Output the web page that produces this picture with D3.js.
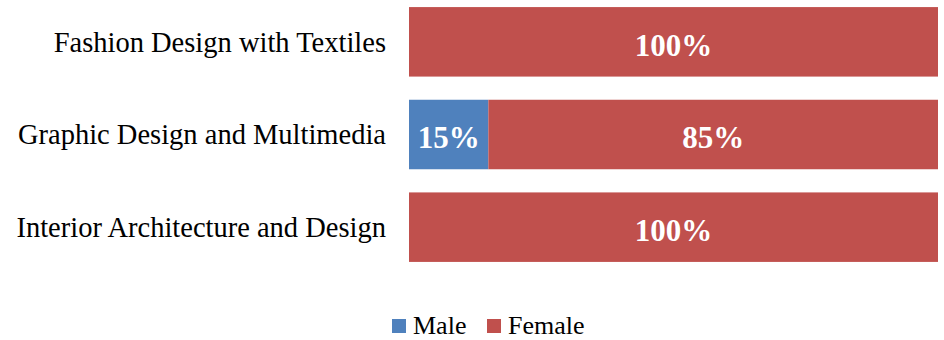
<!DOCTYPE html>
<html><head><meta charset="utf-8">
<script src="https://cdn.jsdelivr.net/npm/d3@7"></script>
<style>body{margin:0;background:#fff}svg{display:block}</style>
</head><body>
<script>
const categories = ["Fashion Design with Textiles", "Graphic Design and Multimedia", "Interior Architecture and Design"];
const seriesNames = ["Male", "Female"];
const male = [0, 15, 0];
const female = [100, 85, 100];
const colors = ["#4F81BD", "#C0504D"];

const W = 944, H = 340;
const svg = d3.select("body").append("svg").attr("width", W).attr("height", H);
const font = "'Liberation Serif','Times New Roman',serif";

const x = d3.scaleLinear().domain([0, 100]).range([409, 938]);
const y = d3.scaleBand().domain(categories).range([-4.5, 273.5]).paddingInner(0.25).paddingOuter(0.125);

const data = categories.map((c, i) => ({cat: c, Male: male[i], Female: female[i]}));
const stack = d3.stack().keys(seriesNames)(data);

stack.forEach((s, si) => {
  const g = svg.append("g");
  g.selectAll("rect").data(s).join("rect")
    .attr("x", d => x(d[0])).attr("width", d => x(d[1]) - x(d[0]))
    .attr("y", d => y(d.data.cat)).attr("height", y.bandwidth())
    .attr("fill", colors[si]);
  g.selectAll("text").data(s.filter(d => d[1] - d[0] > 0)).join("text")
    .attr("x", d => (x(d[0]) + x(d[1])) / 2)
    .attr("y", d => y(d.data.cat) + y.bandwidth() / 2)
    .attr("dy", "0.45em").attr("text-anchor", "middle")
    .attr("font-family", font).attr("font-weight", "bold").attr("font-size", 31)
    .attr("fill", "#fff")
    .text(d => (d[1] - d[0]) + "%");
});

svg.append("g").selectAll("text").data(categories).join("text")
  .attr("x", 386).attr("y", d => y(d) + y.bandwidth() / 2)
  .attr("dy", "0.35em").attr("text-anchor", "end")
  .attr("font-family", font).attr("font-size", 28.5).attr("fill", "#000")
  .text(d => d);

const legendX = [392, 487];
const lg = svg.append("g");
seriesNames.forEach((n, i) => {
  lg.append("rect").attr("x", legendX[i]).attr("y", 319).attr("width", 14).attr("height", 14).attr("fill", colors[i]);
  lg.append("text").attr("x", legendX[i] + 21).attr("y", 333.5)
    .attr("font-family", font).attr("font-size", 26).attr("fill", "#000").text(n);
});
</script>
</body></html>
